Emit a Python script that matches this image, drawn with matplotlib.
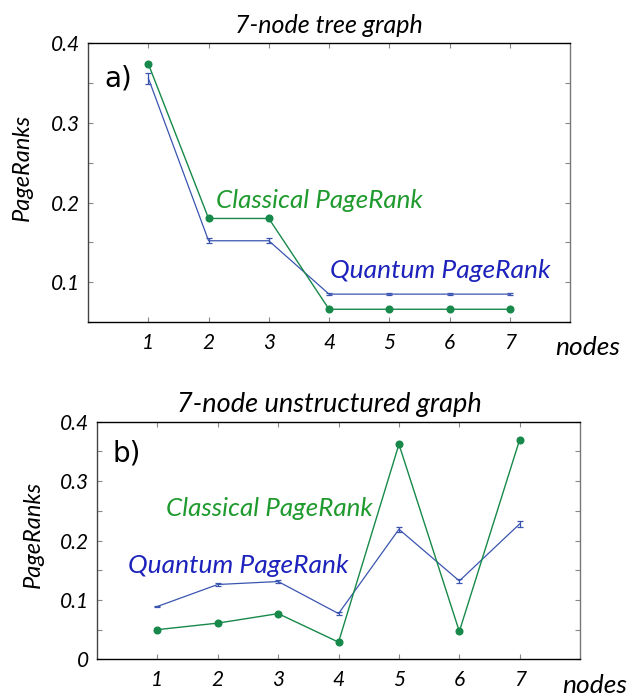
import numpy as np
import matplotlib
matplotlib.use("Agg")
import matplotlib.pyplot as plt
from matplotlib.ticker import MultipleLocator

# Data
nodes = [1, 2, 3, 4, 5, 6, 7]
node_labels = ["1", "2", "3", "4", "5", "6", "7"]

# a) 7-node tree graph
tree_classical = [0.374, 0.180, 0.180, 0.066, 0.066, 0.066, 0.066]
tree_quantum = [0.356, 0.152, 0.152, 0.085, 0.085, 0.085, 0.085]
tree_quantum_err = [0.007, 0.003, 0.003, 0.001, 0.001, 0.001, 0.001]

# b) 7-node unstructured graph
unstr_classical = [0.050, 0.061, 0.077, 0.029, 0.362, 0.047, 0.370]
unstr_quantum = [0.089, 0.126, 0.131, 0.077, 0.219, 0.132, 0.228]
unstr_quantum_err = [0.001, 0.002, 0.002, 0.002, 0.0045, 0.003, 0.005]

GREEN = "#17894a"
GREEN_TXT = "#1f9a2e"
BLUE = "#3a55b0"
BLUE_TXT = "#1c22bb"
FONT = "Lato"

plt.rcParams["font.family"] = [FONT, "DejaVu Sans"]
plt.rcParams["font.style"] = "italic"


def draw_panel(ax, classical, quantum, quantum_err, title, title_size, title_x,
               tag, ylim, yticks, cl_pos, qu_pos, tag_pos, nodes_pos):
    ax.plot(nodes, classical, color=GREEN, lw=1.0, marker="o", ms=4.8, zorder=3)
    ax.errorbar(nodes, quantum, yerr=quantum_err, color=BLUE, lw=0.9,
                capsize=2.3, capthick=0.9, elinewidth=0.9, zorder=2)
    ax.set_xlim(0, 8)
    ax.set_ylim(*ylim)
    ax.set_xticks(nodes)
    ax.set_xticklabels(node_labels)
    ax.set_yticks(yticks)
    ax.set_yticklabels([("%g" % v) for v in yticks])
    ax.yaxis.set_minor_locator(MultipleLocator(0.05))
    ax.tick_params(which="both", direction="in", top=True, right=True,
                   color="#888888", labelsize=15, length=3.6, width=0.8)
    ax.tick_params(axis="x", pad=8)
    ax.tick_params(axis="y", pad=6)
    for sp in ax.spines.values():
        sp.set_linewidth(1.0)
    ax.spines["right"].set_color("#777777")
    ax.spines["left"].set_color("#444444")
    ax.set_title(title, fontsize=title_size, pad=7, x=title_x)
    ax.set_ylabel("PageRanks", fontsize=17)
    ax.text(tag_pos[0], tag_pos[1], tag, transform=ax.transAxes, fontsize=20,
            family="DejaVu Sans", style="normal", va="center", ha="left")
    ax.text(cl_pos[0], cl_pos[1], "Classical PageRank", transform=ax.transAxes,
            color=GREEN_TXT, fontsize=18.7, va="center", ha="left")
    ax.text(qu_pos[0], qu_pos[1], "Quantum PageRank", transform=ax.transAxes,
            color=BLUE_TXT, fontsize=19, va="center", ha="left")
    ax.text(nodes_pos[0], nodes_pos[1], "nodes", transform=ax.transAxes,
            fontsize=19, va="center", ha="left")


fig = plt.figure(figsize=(6.34, 6.97), dpi=100)
ax1 = fig.add_axes([0.139, 0.538, 0.760, 0.400])
ax2 = fig.add_axes([0.153, 0.054, 0.762, 0.341])

draw_panel(ax1, tree_classical, tree_quantum, tree_quantum_err,
           "7-node tree graph", 18, 0.5, "a)", (0.05, 0.4), [0.1, 0.2, 0.3, 0.4],
           (0.266, 0.437), (0.501, 0.186), (0.033, 0.875), (0.969, -0.09))
draw_panel(ax2, unstr_classical, unstr_quantum, unstr_quantum_err,
           "7-node unstructured graph", 19.5, 0.481, "b)", (0, 0.4),
           [0, 0.1, 0.2, 0.3, 0.4],
           (0.142, 0.633), (0.065, 0.397), (0.032, 0.868), (0.963, -0.109))
ax1.yaxis.set_label_coords(-0.114, 0.554)
ax2.yaxis.set_label_coords(-0.109, 0.527)

fig.savefig("out.png", dpi=100)
